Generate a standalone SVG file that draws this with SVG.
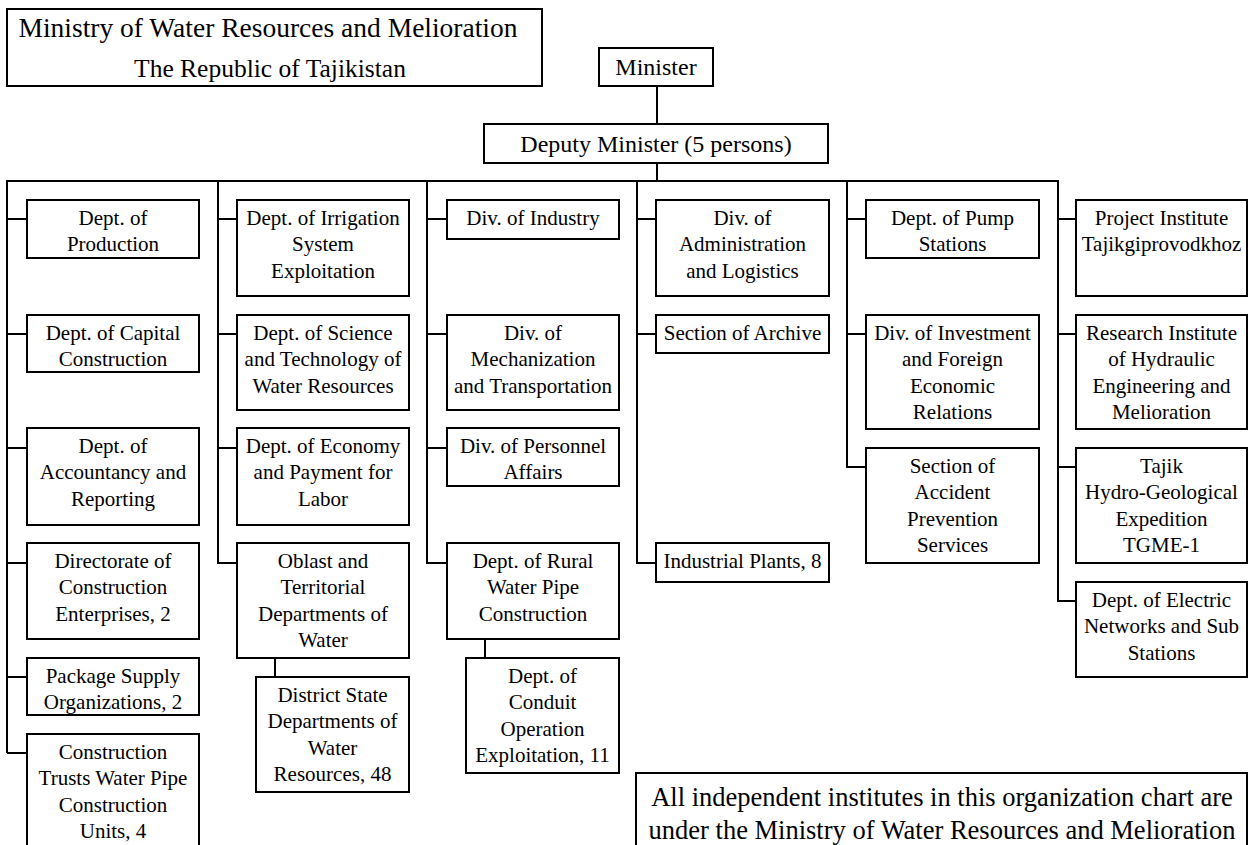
<svg xmlns="http://www.w3.org/2000/svg" width="1248" height="845" viewBox="0 0 1248 845">
<style>
  .box { fill: #fff; stroke: #000; stroke-width: 2; }
  .t { font-family: "Liberation Serif", "Times New Roman", serif; font-size: 21px; fill: #000; text-anchor: middle; }
  .big { font-family: "Liberation Serif", "Times New Roman", serif; fill: #000; text-anchor: middle; }
  .c { fill: none; stroke: #000; stroke-width: 2; }
</style>
<rect width="1248" height="845" fill="#fff"/>

<g id="connectors">
  <path class="c" d="M657,86 V124"/>
  <path class="c" d="M657,163 V181"/>
  <path class="c" d="M7,753 V181 H1058 V601 H1076"/>
  <path class="c" d="M7,219 H27 M7,334 H27 M7,448 H27 M7,563 H27 M7,677 H27 M7,753 H27"/>
  <path class="c" d="M218,181 V563 H237 M218,219 H237 M218,334 H237 M218,448 H237"/>
  <path class="c" d="M427,181 V563 H447 M427,219 H447 M427,334 H447 M427,448 H447"/>
  <path class="c" d="M637,181 V563 H656 M637,219 H656 M637,334 H656"/>
  <path class="c" d="M847,181 V467 H866 M847,219 H866 M847,334 H866"/>
  <path class="c" d="M1058,219 H1076 M1058,334 H1076 M1058,467 H1076"/>
  <path class="c" d="M275,658 V677"/>
  <path class="c" d="M485,639 V658"/>
</g>

<g id="title">
  <rect class="box" x="7" y="9" width="535" height="77"/>
  <text class="big" x="268" y="37" font-size="27.5">Ministry of Water Resources and Melioration</text>
  <text class="big" x="270" y="77" font-size="25.5">The Republic of Tajikistan</text>
</g>

<g id="minister">
  <rect class="box" x="599" y="48" width="114" height="38"/>
  <text class="big" x="656" y="75" font-size="24">Minister</text>
</g>

<g id="deputy">
  <rect class="box" x="484" y="124" width="344" height="39"/>
  <text class="big" x="656" y="152" font-size="24">Deputy Minister (5 persons)</text>
</g>

<!-- Column 1 -->
<g id="n-production">
  <rect class="box" x="27" y="200" width="172" height="58"/>
  <text class="t" x="113" y="224.5">Dept. of<tspan x="113" dy="26.5">Production</tspan></text>
</g>
<g id="n-capital">
  <rect class="box" x="27" y="315" width="172" height="57"/>
  <text class="t" x="113" y="339.5">Dept. of Capital<tspan x="113" dy="26.5">Construction</tspan></text>
</g>
<g id="n-accountancy">
  <rect class="box" x="27" y="428" width="172" height="97"/>
  <text class="t" x="113" y="452.5">Dept. of<tspan x="113" dy="26.5">Accountancy and</tspan><tspan x="113" dy="26.5">Reporting</tspan></text>
</g>
<g id="n-directorate">
  <rect class="box" x="27" y="543" width="172" height="96"/>
  <text class="t" x="113" y="567.5">Directorate of<tspan x="113" dy="26.5">Construction</tspan><tspan x="113" dy="26.5">Enterprises, 2</tspan></text>
</g>
<g id="n-package">
  <rect class="box" x="27" y="658" width="172" height="57"/>
  <text class="t" x="113" y="682.5">Package Supply<tspan x="113" dy="26.5">Organizations, 2</tspan></text>
</g>
<g id="n-trusts">
  <rect class="box" x="27" y="734" width="172" height="120"/>
  <text class="t" x="113" y="758.5">Construction<tspan x="113" dy="26.5">Trusts Water Pipe</tspan><tspan x="113" dy="26.5">Construction</tspan><tspan x="113" dy="26.5">Units, 4</tspan></text>
</g>

<!-- Column 2 -->
<g id="n-irrigation">
  <rect class="box" x="237" y="200" width="172" height="96"/>
  <text class="t" x="323" y="224.5">Dept. of Irrigation<tspan x="323" dy="26.5">System</tspan><tspan x="323" dy="26.5">Exploitation</tspan></text>
</g>
<g id="n-science">
  <rect class="box" x="237" y="315" width="172" height="95"/>
  <text class="t" x="323" y="339.5">Dept. of Science<tspan x="323" dy="26.5">and Technology of</tspan><tspan x="323" dy="26.5">Water Resources</tspan></text>
</g>
<g id="n-economy">
  <rect class="box" x="237" y="428" width="172" height="97"/>
  <text class="t" x="323" y="452.5">Dept. of Economy<tspan x="323" dy="26.5">and Payment for</tspan><tspan x="323" dy="26.5">Labor</tspan></text>
</g>
<g id="n-oblast">
  <rect class="box" x="237" y="543" width="172" height="115"/>
  <text class="t" x="323" y="567.5">Oblast and<tspan x="323" dy="26.5">Territorial</tspan><tspan x="323" dy="26.5">Departments of</tspan><tspan x="323" dy="26.5">Water</tspan></text>
</g>
<g id="n-district">
  <rect class="box" x="256" y="677" width="153" height="115"/>
  <text class="t" x="332.5" y="701.5">District State<tspan x="332.5" dy="26.5">Departments of</tspan><tspan x="332.5" dy="26.5">Water</tspan><tspan x="332.5" dy="26.5">Resources, 48</tspan></text>
</g>

<!-- Column 3 -->
<g id="n-industry">
  <rect class="box" x="447" y="200" width="172" height="39"/>
  <text class="t" x="533" y="224.5">Div. of Industry</text>
</g>
<g id="n-mechanization">
  <rect class="box" x="447" y="315" width="172" height="95"/>
  <text class="t" x="533" y="339.5">Div. of<tspan x="533" dy="26.5">Mechanization</tspan><tspan x="533" dy="26.5">and Transportation</tspan></text>
</g>
<g id="n-personnel">
  <rect class="box" x="447" y="428" width="172" height="58"/>
  <text class="t" x="533" y="452.5">Div. of Personnel<tspan x="533" dy="26.5">Affairs</tspan></text>
</g>
<g id="n-rural">
  <rect class="box" x="447" y="543" width="172" height="96"/>
  <text class="t" x="533" y="567.5">Dept. of Rural<tspan x="533" dy="26.5">Water Pipe</tspan><tspan x="533" dy="26.5">Construction</tspan></text>
</g>
<g id="n-conduit">
  <rect class="box" x="466" y="658" width="153" height="115"/>
  <text class="t" x="542.5" y="682.5">Dept. of<tspan x="542.5" dy="26.5">Conduit</tspan><tspan x="542.5" dy="26.5">Operation</tspan><tspan x="542.5" dy="26.5">Exploitation, 11</tspan></text>
</g>

<!-- Column 4 -->
<g id="n-administration">
  <rect class="box" x="656" y="200" width="173" height="96"/>
  <text class="t" x="742.5" y="224.5">Div. of<tspan x="742.5" dy="26.5">Administration</tspan><tspan x="742.5" dy="26.5">and Logistics</tspan></text>
</g>
<g id="n-archive">
  <rect class="box" x="656" y="315" width="173" height="38"/>
  <text class="t" x="742.5" y="339.5">Section of Archive</text>
</g>
<g id="n-plants">
  <rect class="box" x="656" y="543" width="173" height="39"/>
  <text class="t" x="742.5" y="567.5">Industrial Plants, 8</text>
</g>

<!-- Column 5 -->
<g id="n-pump">
  <rect class="box" x="866" y="200" width="173" height="58"/>
  <text class="t" x="952.5" y="224.5">Dept. of Pump<tspan x="952.5" dy="26.5">Stations</tspan></text>
</g>
<g id="n-investment">
  <rect class="box" x="866" y="315" width="173" height="114"/>
  <text class="t" x="952.5" y="339.5">Div. of Investment<tspan x="952.5" dy="26.5">and Foreign</tspan><tspan x="952.5" dy="26.5">Economic</tspan><tspan x="952.5" dy="26.5">Relations</tspan></text>
</g>
<g id="n-accident">
  <rect class="box" x="866" y="448" width="173" height="115"/>
  <text class="t" x="952.5" y="472.5">Section of<tspan x="952.5" dy="26.5">Accident</tspan><tspan x="952.5" dy="26.5">Prevention</tspan><tspan x="952.5" dy="26.5">Services</tspan></text>
</g>

<!-- Column 6 -->
<g id="n-project">
  <rect class="box" x="1076" y="200" width="171" height="96"/>
  <text class="t" x="1161.5" y="224.5">Project Institute<tspan x="1161.5" dy="26.5">Tajikgiprovodkhoz</tspan></text>
</g>
<g id="n-research">
  <rect class="box" x="1076" y="315" width="171" height="114"/>
  <text class="t" x="1161.5" y="339.5">Research Institute<tspan x="1161.5" dy="26.5">of Hydraulic</tspan><tspan x="1161.5" dy="26.5">Engineering and</tspan><tspan x="1161.5" dy="26.5">Melioration</tspan></text>
</g>
<g id="n-tajik">
  <rect class="box" x="1076" y="448" width="171" height="115"/>
  <text class="t" x="1161.5" y="472.5">Tajik<tspan x="1161.5" dy="26.5">Hydro-Geological</tspan><tspan x="1161.5" dy="26.5">Expedition</tspan><tspan x="1161.5" dy="26.5">TGME-1</tspan></text>
</g>
<g id="n-electric">
  <rect class="box" x="1076" y="582" width="171" height="95"/>
  <text class="t" x="1161.5" y="606.5">Dept. of Electric<tspan x="1161.5" dy="26.5">Networks and Sub</tspan><tspan x="1161.5" dy="26.5">Stations</tspan></text>
</g>

<g id="note">
  <rect class="box" x="636" y="773" width="611" height="80"/>
  <text class="big" x="942" y="806" font-size="26.5">All independent institutes in this organization chart are<tspan x="942" dy="33">under the Ministry of Water Resources and Melioration</tspan></text>
</g>
</svg>
